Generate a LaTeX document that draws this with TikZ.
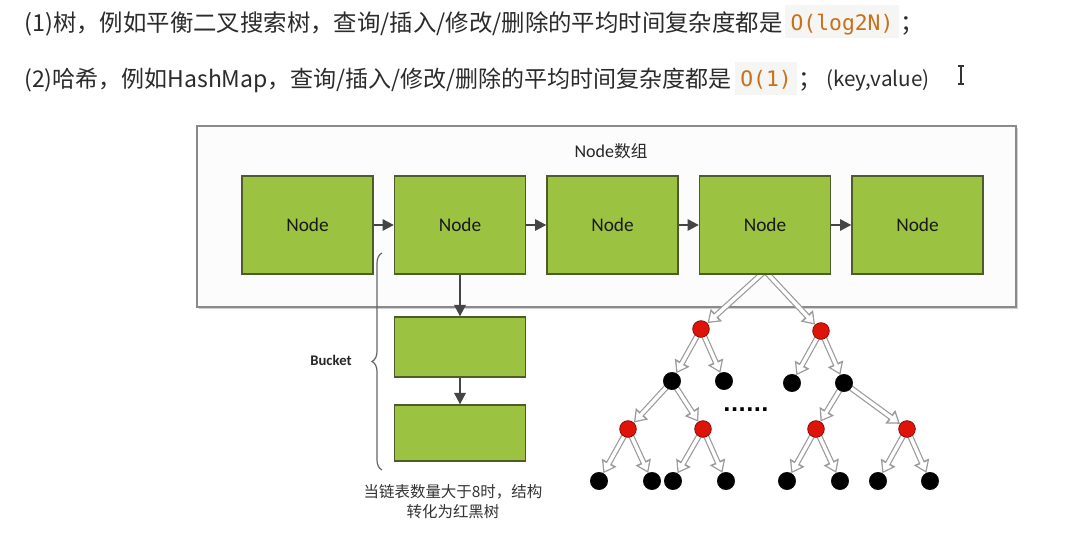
\documentclass[tikz,border=0pt]{standalone}
\usepackage{fontspec}
\setmainfont{Noto Sans CJK SC}
\newfontfamily\cjk{Noto Sans CJK SC}
\newfontfamily\calib{Carlito}
\newfontfamily\codefont{DejaVu Sans Mono}
\newfontfamily\dejavu{DejaVu Sans}
\usetikzlibrary{arrows.meta,decorations.pathreplacing,calc,shadows}
\definecolor{txt}{HTML}{2B2B2B}
\definecolor{codeorange}{HTML}{C8701A}
\definecolor{codebg}{HTML}{F5F5F3}
\definecolor{ggreen}{RGB}{156,194,66}
\definecolor{gborder}{RGB}{78,92,44}
\definecolor{arrgray}{HTML}{454545}
\definecolor{boxgray}{HTML}{8A8A8A}
\definecolor{boxbg}{HTML}{FCFCFC}
\definecolor{hgray}{HTML}{9A9A9A}
\definecolor{rred}{RGB}{222,20,10}
\definecolor{rdark}{RGB}{140,10,5}
\pgfdeclarelayer{back}
\pgfdeclarelayer{mid}
\pgfsetlayers{back,mid,main}
\begin{document}
\begin{tikzpicture}[x=0.75pt,y=-0.75pt,
  maintext/.style={anchor=base west, inner sep=0pt, text=txt, font=\cjk\fontsize{17.55}{20}\selectfont},
  codebox/.style={fill=codebg, inner sep=0pt, minimum height=24.75pt},
  codetext/.style={anchor=base, inner sep=0pt, text=codeorange, font=\codefont\fontsize{16}{19}\selectfont},
  gbox/.style={draw=gborder, fill=ggreen, line width=1pt, minimum width=98.25pt, minimum height=73.5pt, inner sep=0pt, text=black!90, font=\calib\fontsize{14.5}{17}\selectfont},
  bbox/.style={draw=gborder, fill=ggreen, line width=1pt, minimum width=98.25pt, inner sep=0pt},
  larrow/.style={draw=arrgray, line width=1.6pt, -{Triangle[length=8.5pt,width=8.5pt]}},
  hout/.style={draw=hgray, line width=4.4pt, -{Triangle[length=9pt,width=12pt]}},
  hin/.style={draw=white, line width=2.6pt, shorten >=1.7pt, -{Triangle[length=6pt,width=8pt]}},
  rnode/.style={circle, fill=rred, draw=rdark, line width=0.6pt, minimum size=12.5pt, inner sep=0pt},
  bnode/.style={circle, fill=black, draw=black, minimum size=13pt, inner sep=0pt},
  bracestyle/.style={draw=black!60, line width=0.9pt, decorate, decoration={brace, amplitude=7.5pt}},
  small/.style={inner sep=0pt, text=black!85}
]
\begin{pgfonlayer}{back}
\fill[white] (0,0) rectangle (1068,534);
\end{pgfonlayer}
\useasboundingbox (0,0) rectangle (1068,534);

% ---- header text ----
\node[maintext] (t1) at (24,32) {(1)树，例如平衡二叉搜索树，查询/插入/修改/删除的平均时间复杂度都是};
\node[codebox, minimum width=85.5pt] (c1bg) at (842,21.5) {};
\node[codetext] (c1) at (842,31) {O(log2N)};
\node[maintext] (s1) at (900,32) {；};

\node[maintext, font=\cjk\fontsize{17.25}{20}\selectfont] (t2) at (24,88) {(2)哈希，例如HashMap，查询/插入/修改/删除的平均时间复杂度都是};
\node[codebox, minimum width=46.5pt] (c2bg) at (766,78.5) {};
\node[codetext] (c2) at (766,87) {O(1)};
\node[maintext] (s2) at (798,88) {；};
\node[anchor=base, inner sep=0pt, text=txt, font=\cjk\fontsize{15.5}{18}\selectfont] (kv) at (878,87) {(key,value)};
% I-beam cursor
\draw[black!80, line width=0.9pt] (961,66) -- (961,84) (958,66) -- (964,66) (958,84) -- (964,84);

% ---- array box ----
\begin{pgfonlayer}{back}
\node[draw=boxgray, fill=boxbg, line width=1.2pt, minimum width=614.25pt, minimum height=135.75pt, inner sep=0pt,
  drop shadow={shadow xshift=1.5pt, shadow yshift=-1.5pt, fill=black!30, opacity=0.6}] (arr) at (606.5,216.5) {};
\end{pgfonlayer}
\node[small, font=\calib\fontsize{13.5}{16}\selectfont] (arrlabel) at (611,151) {Node{\cjk\fontsize{12.5}{15}\selectfont 数组}};

\node[gbox] (n1) at (307.5,225) {Node};
\node[gbox] (n2) at (460,225) {Node};
\node[gbox] (n3) at (612.5,225) {Node};
\node[gbox] (n4) at (765,225) {Node};
\node[gbox] (n5) at (917.5,225) {Node};

\draw[larrow] (n1) -- (n2);
\draw[larrow] (n2) -- (n3);
\draw[larrow] (n3) -- (n4);
\draw[larrow] (n4) -- (n5);

% ---- bucket ----
\node[bbox, minimum height=45pt] (bk1) at (460,347) {};
\node[bbox, minimum height=42pt] (bk2) at (460,433) {};
\draw[larrow] (n2) -- (bk1);
\draw[larrow] (bk1) -- (bk2);

\coordinate (bt) at (382,253);
\coordinate (bb) at (382,470);
\draw[bracestyle] (bb) -- (bt);
\node[small, font=\calib\bfseries\fontsize{11}{13}\selectfont] (bucket) at (331,360) {Bucket};

\node[small, align=center, font=\cjk\fontsize{11.6}{15}\selectfont, text=black!80] (cap) at (453,502) {当链表数量大于8时，结构\\转化为红黑树};

% ---- red-black tree ----
\coordinate (apex) at (765,271);
\node[rnode] (r1) at (701,329) {};
\node[rnode] (r2) at (821,331) {};
\node[bnode] (b1) at (672,381) {};
\node[bnode] (b2) at (724,381) {};
\node[bnode] (b3) at (792,383) {};
\node[bnode] (b4) at (844,383) {};
\node[rnode] (r3) at (628,429) {};
\node[rnode] (r4) at (703,429) {};
\node[rnode] (r5) at (816,429) {};
\node[rnode] (r6) at (907,429) {};
\node[bnode] (l1) at (599,481) {};
\node[bnode] (l2) at (652,481) {};
\node[bnode] (l3) at (673,481) {};
\node[bnode] (l4) at (726,481) {};
\node[bnode] (l5) at (787,481) {};
\node[bnode] (l6) at (840,481) {};
\node[bnode] (l7) at (878,481) {};
\node[bnode] (l8) at (930,481) {};
\node[inner sep=0pt, font=\dejavu\bfseries\fontsize{15}{18}\selectfont] (dots) at (746,410) {......};

\begin{pgfonlayer}{mid}
\foreach \a/\b in {apex/r1, apex/r2, r1/b1, r1/b2, r2/b3, r2/b4, b1/r3, b1/r4, b4/r5, b4/r6,
                   r3/l1, r3/l2, r4/l3, r4/l4, r5/l5, r5/l6, r6/l7, r6/l8}{
  \draw[hout] (\a.center) -- (\b);
  \draw[hin] (\a.center) -- (\b);
}
\end{pgfonlayer}
\end{tikzpicture}
\end{document}
